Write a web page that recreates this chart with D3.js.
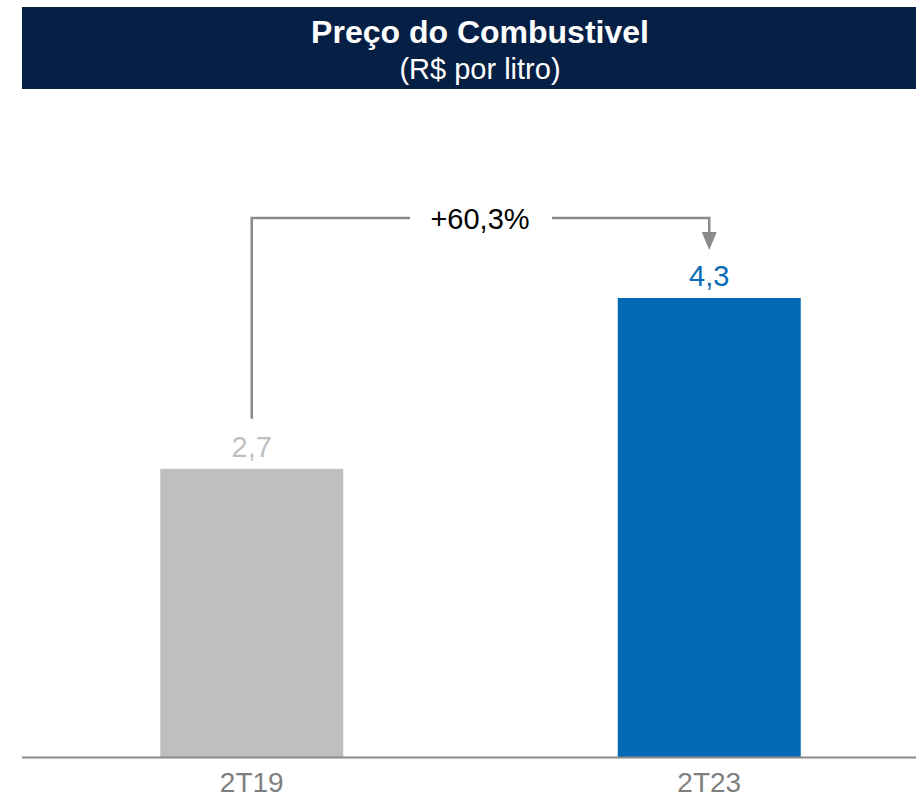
<!DOCTYPE html>
<html>
<head>
<meta charset="utf-8">
<script src="https://cdn.jsdelivr.net/npm/d3@7"></script>
<style>
  html, body { margin: 0; padding: 0; background: #ffffff; }
  svg { display: block; font-family: "Liberation Sans", Arial, sans-serif; }
</style>
</head>
<body>
<svg id="chart" width="916" height="799"></svg>
<script>
// Fuel price per litre, two quarters
const categories = ["2T19", "2T23"];
const values = [2.7, 4.3];
const valueLabels = ["2,7", "4,3"];
const changeLabel = "+60,3%";
const titleText = "Preço do Combustivel";
const subtitleText = "(R$ por litro)";

const barColors = ["#bfbfbf", "#056ab5"];
const labelColors = ["#bfbfbf", "#0a6bb7"];

const svg = d3.select("#chart");

// Header band
svg.append("rect")
  .attr("x", 22).attr("y", 7)
  .attr("width", 894).attr("height", 82)
  .attr("fill", "#061f45");

svg.append("text")
  .attr("x", 480).attr("y", 43)
  .attr("text-anchor", "middle")
  .attr("fill", "#ffffff")
  .attr("font-weight", "bold")
  .attr("font-size", 32)
  .text(titleText);

svg.append("text")
  .attr("x", 480).attr("y", 79)
  .attr("text-anchor", "middle")
  .attr("fill", "#ffffff")
  .attr("font-size", 29)
  .text(subtitleText);

// Scales
const baseY = 757;
const x = d3.scaleBand()
  .domain(categories)
  .range([23, 938])
  .paddingInner(0.6)
  .paddingOuter(0.3);

const y = d3.scaleLinear()
  .domain([0, d3.max(values)])
  .range([baseY, 298]);

// Bars
svg.selectAll("rect.bar")
  .data(values)
  .join("rect")
  .attr("class", "bar")
  .attr("x", (d, i) => x(categories[i]))
  .attr("y", d => y(d))
  .attr("width", x.bandwidth())
  .attr("height", d => baseY - y(d))
  .attr("fill", (d, i) => barColors[i]);

// Value labels
svg.selectAll("text.val")
  .data(values)
  .join("text")
  .attr("class", "val")
  .attr("x", (d, i) => x(categories[i]) + x.bandwidth() / 2)
  .attr("y", d => y(d) - 12)
  .attr("text-anchor", "middle")
  .attr("font-size", 29)
  .attr("fill", (d, i) => labelColors[i])
  .text((d, i) => valueLabels[i]);

// Baseline
svg.append("line")
  .attr("x1", 22).attr("x2", 916)
  .attr("y1", baseY + 0.5).attr("y2", baseY + 0.5)
  .attr("stroke", "#898989")
  .attr("stroke-width", 2);

// Category axis
const axis = d3.axisBottom(x).tickSize(0).tickPadding(0);
const axisG = svg.append("g")
  .attr("transform", `translate(0,${baseY})`)
  .call(axis);
axisG.select(".domain").remove();
axisG.selectAll("text")
  .attr("dy", null)
  .attr("y", 35)
  .attr("font-size", 28)
  .attr("font-family", "\"Liberation Sans\", Arial, sans-serif")
  .attr("fill", "#7f7f7f");

// Change connector with arrow
const cx1 = x(categories[0]) + x.bandwidth() / 2;
const cx2 = x(categories[1]) + x.bandwidth() / 2;
const topY = 218;
const stroke = "#8a8a8a";

svg.append("path")
  .attr("d", `M${cx1},${y(values[0]) - 50} V${topY} H${410}`)
  .attr("fill", "none")
  .attr("stroke", stroke)
  .attr("stroke-width", 2.5);

svg.append("path")
  .attr("d", `M${552},${topY} H${cx2} V${233}`)
  .attr("fill", "none")
  .attr("stroke", stroke)
  .attr("stroke-width", 2.5);

svg.append("path")
  .attr("d", `M${cx2 - 7.5},232 L${cx2 + 7.5},232 L${cx2},250 Z`)
  .attr("fill", stroke);

svg.append("text")
  .attr("x", 480)
  .attr("y", 229)
  .attr("text-anchor", "middle")
  .attr("font-size", 29)
  .attr("fill", "#000000")
  .text(changeLabel);
</script>
</body>
</html>
